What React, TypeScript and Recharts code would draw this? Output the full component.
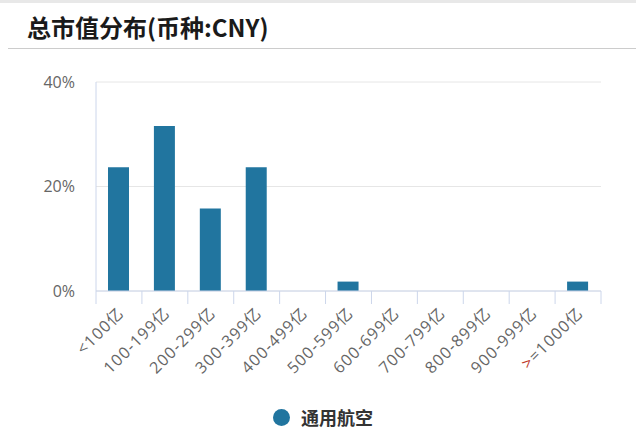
import { Bar, BarChart, CartesianGrid, XAxis, YAxis } from "recharts";

const CATEGORIES = [
  "<100亿",
  "100-199亿",
  "200-299亿",
  "300-399亿",
  "400-499亿",
  "500-599亿",
  "600-699亿",
  "700-799亿",
  "800-899亿",
  "900-999亿",
  ">=1000亿",
];
const SHARES = [23.7, 31.6, 15.8, 23.7, 0, 1.8, 0, 0, 0, 0, 1.8];
const Y_TICKS = [0, 20, 40];
const SERIES_NAME = "通用航空";
const TITLE = "总市值分布(币种:CNY)";

const BAR = "#21759f";
const AXIS_LINE = "#ccd6eb";
const LABEL = "#666666";
const FONT = '"Noto Sans CJK SC", "Open Sans", sans-serif';
const TICK_FONT = '"Open Sans", "Noto Sans CJK SC", sans-serif';

const W = 636;
const H = 448;
const MARGIN = { top: 82, right: 35, left: 36, bottom: 0 };
const Y_AXIS_W = 60;
const BAND = (W - MARGIN.left - MARGIN.right - Y_AXIS_W) / CATEGORIES.length;

const data = CATEGORIES.map((name, i) => ({ name, value: SHARES[i] }));

function CategoryTick({ x, y, payload, index }: any) {
  const label: string = payload.value;
  const last = index === CATEGORIES.length - 1;
  return (
    <g>
      <line x1={x - BAND / 2} y1={y} x2={x - BAND / 2} y2={y + 13} stroke={AXIS_LINE} />
      {last && <line x1={x + BAND / 2} y1={y} x2={x + BAND / 2} y2={y + 13} stroke={AXIS_LINE} />}
      <text
        transform={`translate(${x + 6},${y + 23}) rotate(-45)`}
        textAnchor="end"
        fill={LABEL}
        fontSize={16}
        letterSpacing={1.2}
        fontFamily={TICK_FONT}
      >
        {label.startsWith(">") ? (
          <>
            <tspan fill="#c0392b">&gt;</tspan>
            <tspan>{label.slice(1)}</tspan>
          </>
        ) : (
          label
        )}
      </text>
    </g>
  );
}

export default function App() {
  return (
    <div style={{ position: "absolute", left: 0, top: 0, width: W, height: H, background: "#fff", fontFamily: FONT }}>
      <div style={{ position: "absolute", left: 0, top: 0, width: W, height: 3, background: "#e8e8e8" }} />
      <div
        style={{
          position: "absolute",
          left: 27,
          top: 10,
          fontSize: 24,
          fontWeight: 700,
          color: "#1a1a1a",
          lineHeight: "34px",
          whiteSpace: "nowrap",
        }}
      >
        {TITLE}
      </div>
      <div style={{ position: "absolute", left: 8, top: 48, width: W - 8, height: 1, background: "#cccccc" }} />

      <div style={{ position: "absolute", left: 0, top: 0 }}>
        <BarChart width={W} height={H} data={data} margin={MARGIN}>
          <CartesianGrid vertical={false} stroke="#e6e6e6" />
          <XAxis
            dataKey="name"
            height={H - 291}
            interval={0}
            tickLine={false}
            tickSize={0}
            tickMargin={0}
            axisLine={{ stroke: AXIS_LINE }}
            tick={<CategoryTick />}
          />
          <YAxis
            width={Y_AXIS_W}
            domain={[0, 40]}
            ticks={Y_TICKS}
            tickLine={false}
            tickSize={0}
            tickMargin={21}
            axisLine={{ stroke: AXIS_LINE }}
            tickFormatter={(v) => `${v}%`}
            tick={{ fill: LABEL, fontSize: 16, fontFamily: TICK_FONT }}
          />
          <Bar dataKey="value" name={SERIES_NAME} fill={BAR} barSize={21} isAnimationActive={false} />
        </BarChart>
      </div>

      <div
        style={{
          position: "absolute",
          left: 273,
          top: 404,
          display: "flex",
          alignItems: "center",
          gap: 11,
        }}
      >
        <span style={{ width: 17, height: 17, borderRadius: "50%", background: BAR, display: "inline-block" }} />
        <span style={{ fontSize: 18, fontWeight: 700, color: "#333" }}>{SERIES_NAME}</span>
      </div>
    </div>
  );
}
